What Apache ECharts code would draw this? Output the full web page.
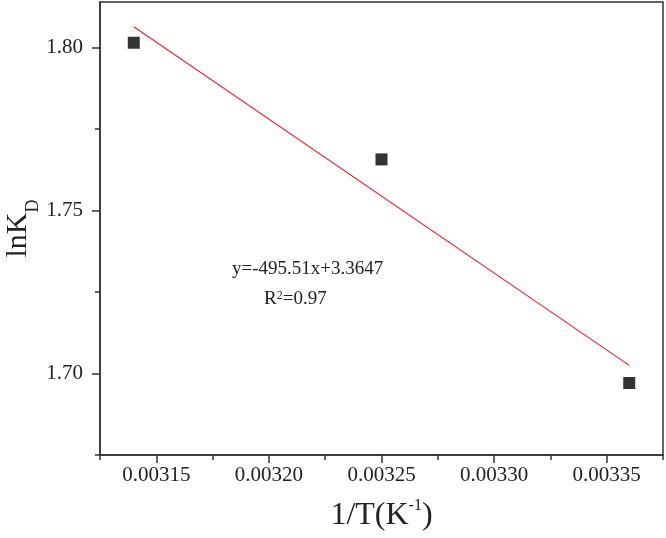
<!DOCTYPE html>
<html><head><meta charset="utf-8">
<script src="https://cdn.jsdelivr.net/npm/echarts@6/dist/echarts.min.js"></script>
<style>html,body{margin:0;padding:0;background:#fff}#c{width:666px;height:538px}</style>
</head><body><div id="c"></div>
<script>
// data
const invT = [0.00314, 0.00325, 0.00336];
const lnKD = [1.8015, 1.7657, 1.6971];
const fitX = [0.00314, 0.00336];
const fitY = [1.8064, 1.7025];
const xMajorTicks = [0.00315, 0.00320, 0.00325, 0.00330, 0.00335];
const xMinorTicks = [0.003125, 0.003175, 0.003225, 0.003275, 0.003325, 0.003375];
const xLabels = ['0.00315', '0.00320', '0.00325', '0.00330', '0.00335'];
const yMajorTicks = [1.70, 1.75, 1.80];
const yMinorTicks = [1.675, 1.725, 1.775];
const yLabels = ['1.70', '1.75', '1.80'];
const fitEquation = 'y=-495.51x+3.3647';
const fitR2 = '0.97';

const FONT = 'Liberation Serif';
const AX = '#333';
function lab(ticks, labels) {
  return v => { for (let i = 0; i < ticks.length; i++) if (Math.abs(v - ticks[i]) < 1e-9) return labels[i]; return ''; };
}
const chart = echarts.init(document.getElementById('c'));
chart.setOption({
  animation: false,
  textStyle: { fontFamily: FONT },
  grid: { left: 100, top: 2, right: 3, bottom: 83, containLabel: false, outerBoundsMode: 'none',
    show: true, borderColor: AX, borderWidth: 1.5 },
  xAxis: [{
    type: 'value', min: 0.003125, max: 0.003375, position: 'bottom',
    axisLine: { show: true, lineStyle: { color: AX, width: 1.5 } },
    axisTick: { show: true, length: 8, customValues: xMajorTicks, lineStyle: { color: AX, width: 1.5 } },
    axisLabel: { customValues: xMajorTicks, formatter: lab(xMajorTicks, xLabels), margin: 10, color: '#222', fontSize: 21, fontFamily: FONT },
    splitLine: { show: false },
    name: '1/T(K{sup|-1})', nameLocation: 'middle', nameGap: 43, nameMoveOverlap: false,
    nameTextStyle: { fontFamily: FONT, fontSize: 32, color: '#222', lineHeight: 35, verticalAlign: 'top',
      rich: { sup: { fontFamily: FONT, fontSize: 16, lineHeight: 16, verticalAlign: 'top', color: '#222' } } }
  }, {
    type: 'value', min: 0.003125, max: 0.003375, position: 'bottom',
    axisLine: { show: false },
    axisTick: { show: true, length: 5, customValues: xMinorTicks, lineStyle: { color: AX, width: 1.5 } },
    axisLabel: { show: false }, splitLine: { show: false }
  }],
  yAxis: [{
    type: 'value', min: 1.675, max: 1.814, position: 'left',
    axisLine: { show: true, lineStyle: { color: AX, width: 1.5 } },
    axisTick: { show: true, length: 8, customValues: yMajorTicks, lineStyle: { color: AX, width: 1.5 } },
    axisLabel: { customValues: yMajorTicks, formatter: lab(yMajorTicks, yLabels), margin: 17, color: '#222', fontSize: 21, fontFamily: FONT },
    splitLine: { show: false },
    name: '{m|lnK}{sub|D}', nameLocation: 'middle', nameGap: 67, nameRotate: 90, nameMoveOverlap: false,
    nameTextStyle: { fontFamily: FONT, fontSize: 30, color: '#222',
      rich: {
        m: { fontFamily: FONT, fontSize: 30, lineHeight: 30, verticalAlign: 'top', color: '#222' },
        sub: { fontFamily: FONT, fontSize: 18, lineHeight: 18, padding: [21, 0, 0, 0], verticalAlign: 'top', color: '#222' }
      } }
  }, {
    type: 'value', min: 1.675, max: 1.814, position: 'left',
    axisLine: { show: false },
    axisTick: { show: true, length: 5, customValues: yMinorTicks, lineStyle: { color: AX, width: 1.5 } },
    axisLabel: { show: false }, splitLine: { show: false }
  }],
  series: [{
    type: 'line', xAxisIndex: 0, yAxisIndex: 0,
    data: fitX.map((x, i) => [x, fitY[i]]),
    showSymbol: false, symbol: 'none',
    lineStyle: { color: '#e8262a', width: 1.2 }, z: 2
  }, {
    type: 'scatter', xAxisIndex: 0, yAxisIndex: 0,
    data: invT.map((x, i) => [x, lnKD[i]]),
    symbol: 'rect', symbolSize: 12,
    itemStyle: { color: '#000' }, z: 3
  }],
  graphic: [{
    type: 'text', left: 232, top: 260,
    style: { text: fitEquation, font: '19px "Liberation Serif"', fill: '#222' }
  }, {
    type: 'text', left: 264, top: 290,
    style: { text: 'R{sup|2}=' + fitR2, font: '19px "Liberation Serif"', fill: '#222',
      rich: { sup: { fontFamily: FONT, fontSize: 12, lineHeight: 12, verticalAlign: 'top', fill: '#222' } } }
  }]
});
</script></body></html>
